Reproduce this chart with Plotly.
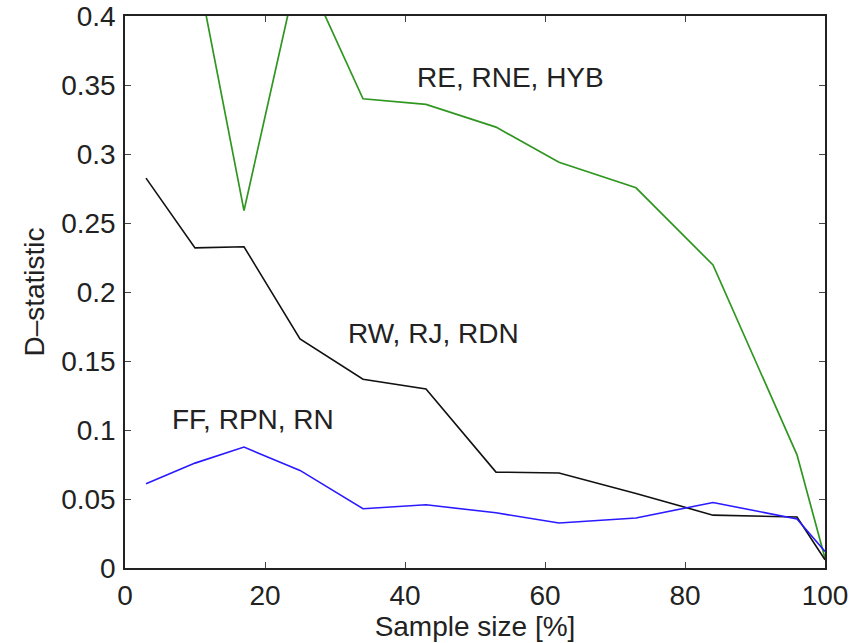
import plotly.graph_objects as go

# Sample size in percent (shared by all three curves)
sample_size = [3, 10, 17, 25, 34, 43, 53, 62, 73, 84, 96, 100]

# D-statistic per group of sampling methods
d_re_rne_hyb = [0.47, 0.442, 0.259, 0.44, 0.340, 0.336, 0.3195, 0.294, 0.2755, 0.2196, 0.082, 0.007]
d_rw_rj_rdn = [0.2825, 0.232, 0.2328, 0.166, 0.1368, 0.1298, 0.0695, 0.0688, 0.054, 0.0383, 0.0370, 0.006]
d_ff_rpn_rn = [0.061, 0.076, 0.0876, 0.0707, 0.0429, 0.0458, 0.040, 0.0326, 0.0362, 0.0475, 0.0355, 0.012]

group_labels = ["RE, RNE, HYB", "RW, RJ, RDN", "FF, RPN, RN"]
label_x = [55, 44, 18.3]
label_y = [0.3556, 0.1696, 0.1074]

x_ticks = [0, 20, 40, 60, 80, 100]
y_ticks = [0, 0.05, 0.1, 0.15, 0.2, 0.25, 0.3, 0.35, 0.4]
y_tick_text = ["0", "0.05", "0.1", "0.15", "0.2", "0.25", "0.3", "0.35", "0.4"]

FONT = "Liberation Sans, Arial, Helvetica, sans-serif"
FS = 28
INK = "#222222"

fig = go.Figure()
fig.add_trace(go.Scatter(x=sample_size, y=d_re_rne_hyb, mode="lines",
                         line=dict(color="#2f9620", width=1.7), showlegend=False))
fig.add_trace(go.Scatter(x=sample_size, y=d_rw_rj_rdn, mode="lines",
                         line=dict(color="#111111", width=1.6), showlegend=False))
fig.add_trace(go.Scatter(x=sample_size, y=d_ff_rpn_rn, mode="lines",
                         line=dict(color="#2a1aff", width=1.6), showlegend=False))

for txt, lx, ly in zip(group_labels, label_x, label_y):
    fig.add_annotation(x=lx, y=ly, xref="x", yref="y", text=txt, showarrow=False,
                       font=dict(family=FONT, size=FS, color=INK))

axis_common = dict(showline=True, linecolor=INK, linewidth=1.5, mirror="ticks",
                   ticks="inside", ticklen=6, tickcolor="#444444", tickwidth=1,
                   showgrid=False, zeroline=False, automargin=False,
                   tickfont=dict(family=FONT, size=FS, color=INK))

fig.update_xaxes(range=[0, 100], tickvals=x_ticks,
                 title=dict(text="Sample size [%]", font=dict(family=FONT, size=FS, color=INK),
                            standoff=0),
                 ticklabelstandoff=2, **axis_common)
fig.update_yaxes(range=[0, 0.4], tickvals=y_ticks, ticktext=y_tick_text,
                 title=dict(text="D\u2013statistic", font=dict(family=FONT, size=FS, color=INK),
                            standoff=8),
                 ticklabelstandoff=2, **axis_common)

fig.update_layout(width=858, height=643, margin=dict(l=125, r=33, t=16, b=75),
                  plot_bgcolor="white", paper_bgcolor="white")

fig.write_html("out.html")
